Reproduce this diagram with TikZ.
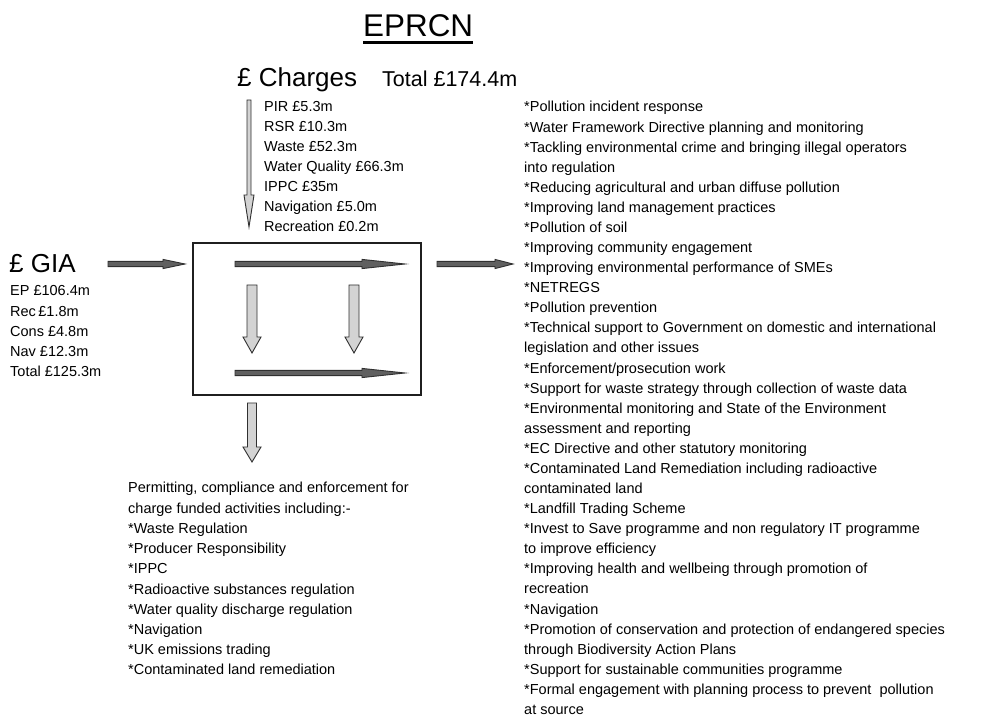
\documentclass[tikz,border=0pt]{standalone}
\usepackage{fontspec}
\setmainfont{Liberation Sans}
\definecolor{darkfill}{HTML}{606060}
\definecolor{lightfill}{HTML}{D3D3D3}
\definecolor{edge}{HTML}{303030}
\newcommand\hblock[7]{\draw[#7] (#1,{#3-#5}) -- (#4,{#3-#5}) -- (#4,{#3-#6}) -- (#2,#3) -- (#4,{#3+#6}) -- (#4,{#3+#5}) -- (#1,{#3+#5}) -- cycle;}
\newcommand\vblock[7]{\draw[#7] ({#1-#5},#2) -- ({#1-#5},#4) -- ({#1-#6},#4) -- (#1,#3) -- ({#1+#6},#4) -- ({#1+#5},#4) -- ({#1+#5},#2) -- cycle;}
\begin{document}
\begin{tikzpicture}[x=1pt,y=-1pt,
  darkarrow/.style={fill=darkfill,draw=edge,line width=0.9pt,line join=miter},
  lightarrow/.style={fill=lightfill,draw=edge,line width=0.9pt,line join=miter},
  listtext/.style={font=\fontsize{14.5}{20}\selectfont,anchor=base west,inner sep=0pt,text=black},
  bigtext/.style={font=\fontsize{26}{26}\selectfont,anchor=base west,inner sep=0pt},
]
\useasboundingbox[fill=white] (0,0) rectangle (989,719);

% title
\node[font=\fontsize{31.4}{31.4}\selectfont,anchor=base west,inner sep=0pt] (title) at (363,37) {EPRCN};
\draw[line width=2.2pt] (title.base west) ++(0,5.5) coordinate (ul1) -- (ul1 -| title.base east);

% charges
\node[bigtext] (charges) at (237,87) {£ Charges};
\node[font=\fontsize{21.5}{21.5}\selectfont,anchor=base west,inner sep=0pt] (total) at (382,87) {Total £174.4m};
\foreach \t [count=\i from 0] in {{PIR £5.3m},{RSR £10.3m},{Waste £52.3m},{Water Quality £66.3m},{IPPC £35m},{Navigation £5.0m},{Recreation £0.2m}}
  \node[listtext] (c\i) at (264,{112+\i*20}) {\t};

% GIA
\node[bigtext] (gia) at (9,273) {£ GIA};
\foreach \t [count=\i from 0] in {{EP £106.4m},{Rec\,£1.8m},{Cons £4.8m},{Nav £12.3m},{Total £125.3m}}
  \node[listtext] (g\i) at (10,{296+\i*20.1}) {\t};

% box
\node[draw=black!88,line width=2.3pt,inner sep=0pt,minimum width=228pt,minimum height=152pt] (box) at (307,319) {};

% arrows
\vblock{249}{100}{227}{195}{2}{5}{lightarrow}
\hblock{108}{185}{264}{163}{2.6}{4.6}{darkarrow}
\hblock{235}{405}{264}{362}{2.6}{4.6}{darkarrow}
\hblock{235}{405}{373}{362}{2.6}{4.6}{darkarrow}
\hblock{437}{513}{264}{495}{2.6}{4.6}{darkarrow}
\vblock{252}{285}{353}{337}{5}{9}{lightarrow}
\vblock{354}{285}{353}{337}{5}{9}{lightarrow}
\vblock{252}{403}{462}{447}{4.5}{9}{lightarrow}

% bottom list
\foreach \t [count=\i from 0] in {{Permitting, compliance and enforcement for},{charge funded activities including:-},{*Waste Regulation},{*Producer Responsibility},{*IPPC},{*Radioactive substances regulation},{*Water quality discharge regulation},{*Navigation},{*UK emissions trading},{*Contaminated land remediation}}
  \node[listtext] (b\i) at (128,{493+\i*20.2}) {\t};

% right list
\foreach \t [count=\i from 0] in {{*Pollution incident response},{*Water Framework Directive planning and monitoring},{*Tackling environmental crime and bringing illegal operators},{into regulation},{*Reducing agricultural and urban diffuse pollution},{*Improving land management practices},{*Pollution of soil},{*Improving community engagement},{*Improving environmental performance of SMEs},{*NETREGS},{*Pollution prevention},{*Technical support to Government on domestic and international},{legislation and other issues},{*Enforcement/prosecution work},{*Support for waste strategy through collection of waste data},{*Environmental monitoring and State of the Environment},{assessment and reporting},{*EC Directive and other statutory monitoring},{*Contaminated Land Remediation including radioactive},{contaminated land},{*Landfill Trading Scheme},{*Invest to Save programme and non regulatory IT programme},{to improve efficiency},{*Improving health and wellbeing through promotion of},{recreation},{*Navigation},{*Promotion of conservation and protection of endangered species},{through Biodiversity Action Plans},{*Support for sustainable communities programme},{*Formal engagement with planning process to prevent\ \ pollution},{at source}}
  \node[listtext] (r\i) at (524,{112+\i*20.08}) {\t};
\end{tikzpicture}
\end{document}
